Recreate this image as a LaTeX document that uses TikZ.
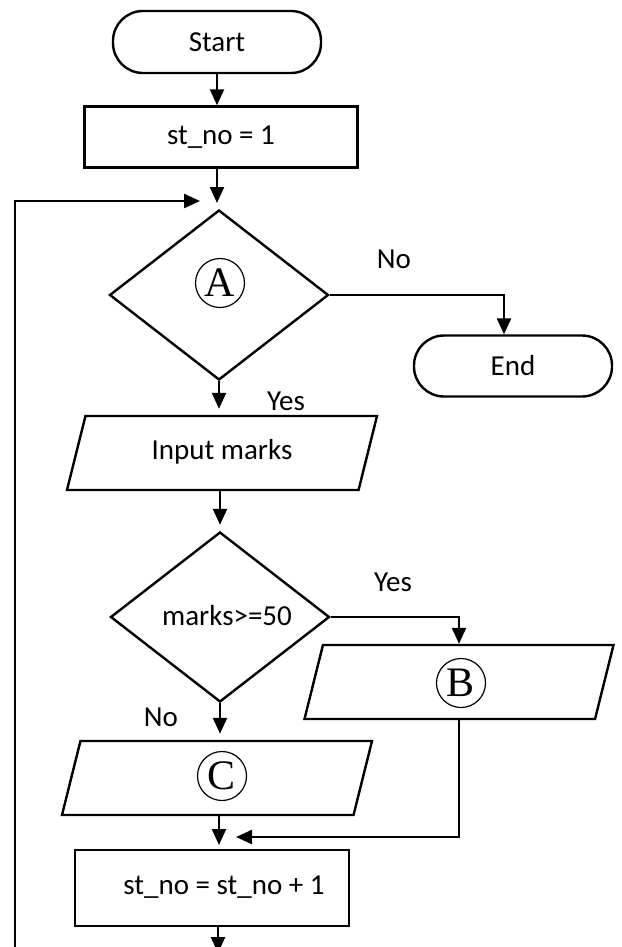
\documentclass[tikz,border=0pt]{standalone}
\usepackage{fontspec}
\setmainfont{Carlito}
\newfontfamily\circfont{Liberation Serif}
\usetikzlibrary{shapes.geometric,arrows.meta}
\begin{document}
\begin{tikzpicture}[x=1pt,y=-1pt,line width=2.4pt,
  font=\fontsize{29}{34}\selectfont,
  term/.style={draw,rectangle,rounded corners=30pt,minimum width=208pt,minimum height=62pt},
  proc/.style={draw,rectangle,minimum height=61pt},
  io/.style={draw,trapezium,trapezium left angle=76,trapezium right angle=104,trapezium stretches body,inner ysep=20pt,minimum width=310pt,execute at begin node=\strut},
  dec/.style={draw,diamond,inner sep=0pt,minimum width=219pt,minimum height=170pt},
  circ/.style={draw,circle,line width=1.2pt,inner sep=0pt,minimum size=49pt,font=\fontsize{42}{42}\circfont},
  >={Triangle[length=16pt,width=14pt]}]
\useasboundingbox (0,0) rectangle (621,947);
\node[term] (start) at (217,42) {Start};
\node[proc,minimum width=273pt] (init) at (221,137) {st\_no = 1};
\coordinate (merge) at (217,203);
\node[dec] (decA) at (219,295) {};
\node[circ] (cA) at (220,283) {A};
\node[term,minimum width=198pt,minimum height=61pt] (end) at (513,366) {End};
\node (noA) at (394,259) {No};
\node[io] (input) at (222,453) {Input marks};
\node (yesA) at (286,401) {Yes};
\node[dec] (decM) at (220,617) {\raisebox{3pt}{\hspace*{14pt}marks>=50}};
\node (yesM) at (393,582) {Yes};
\node[io,minimum width=309pt] (outB) at (459,682) {};
\node[circ] (cB) at (461,683) {B};
\node (noM) at (161,717) {No};
\node[io] (outC) at (217,778) {};
\node[circ] (cC) at (222,776) {C};
\coordinate (join) at (219,845);
\coordinate (joinB) at (236,837);
\node[proc,minimum width=274pt,minimum height=76pt] (incr) at (212,888) {\raisebox{5pt}{\hspace*{24pt}st\_no = st\_no + 1}};
\coordinate (out) at (218,953);
\coordinate (loop) at (15,960);
\coordinate (back) at (200,201);
\draw[->] (start) -- (start |- init.north);
\draw[->] (init.south -| merge) -- (merge);
\draw[->] (loop) |- (back);
\draw[->] (decA.east) -| ([xshift=-9pt]end.north);
\draw[->,shorten >=6pt] (decA.south) -- (decA.south |- input.north);
\draw[->,shorten >=6pt] (input.south -| decM.north) -- (decM.north);
\draw[->] (decM.east) -| (outB.north);
\draw[->,shorten >=6pt] (decM.south) -- (decM.south |- outC.north);
\draw[->] (outC.south -| join) -- (join);
\draw[->] (outB.south) |- (joinB);
\draw[->] (incr.south -| out) -- (out);
\end{tikzpicture}
\end{document}
